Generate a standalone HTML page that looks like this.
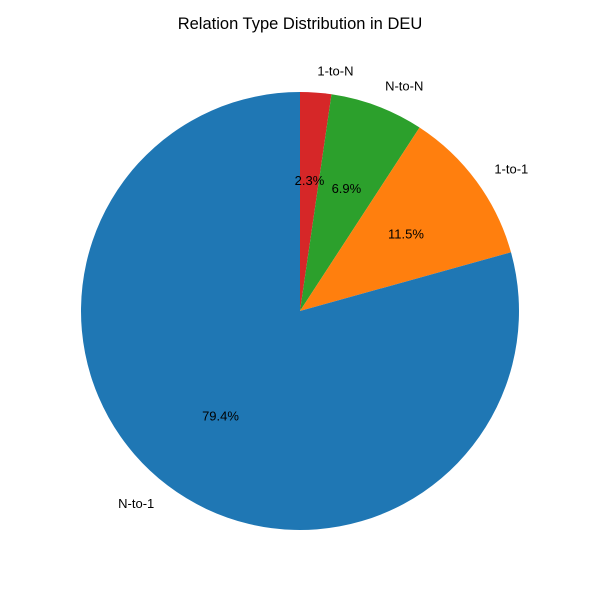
<!DOCTYPE html>
<html><head><meta charset="utf-8"><style>
body{margin:0;background:#fff}
svg{display:block;font-family:"Liberation Sans","DejaVu Sans",sans-serif}
</style></head><body>
<svg id="chart" width="600" height="600">
<text x="300" y="29" text-anchor="middle" font-size="16.5" fill="#000">Relation Type Distribution in DEU</text>
<g id="slices"></g><g id="labels"></g>
</svg>
<script>
const categories=["1-to-N","N-to-N","1-to-1","N-to-1"];
const values=[2.3,6.9,11.5,79.4];
const colors=["#d62728","#2ca02c","#ff7f0e","#1f77b4"];
const cx=300,cy=311,r=219;
const NS="http://www.w3.org/2000/svg";
const total=values.reduce((a,b)=>a+b,0);
let ang=90;
const sg=document.getElementById('slices'),lg=document.getElementById('labels');
function pt(a,rr){const t=a*Math.PI/180;return [cx+rr*Math.cos(t),cy-rr*Math.sin(t)];}
values.forEach((v,i)=>{
  const sweep=v/total*360;const a0=ang,a1=ang-sweep;
  const p0=pt(a0,r),p1=pt(a1,r);
  const p=document.createElementNS(NS,'path');
  p.setAttribute('d',`M${cx},${cy}L${p0[0]},${p0[1]}A${r},${r} 0 ${sweep>180?1:0} 1 ${p1[0]},${p1[1]}Z`);
  p.setAttribute('fill',colors[i]);
  
  
  sg.appendChild(p);
  const mid=(a0+a1)/2;
  const lp=pt(mid,r*1.1);
  const t=document.createElementNS(NS,'text');
  t.setAttribute('x',lp[0]);t.setAttribute('y',lp[1]+5);
  t.setAttribute('text-anchor',lp[0]>=cx?'start':'end');
  t.setAttribute('font-size','13');
  t.textContent=categories[i];
  
  
  lg.appendChild(t);
  const pp=pt(mid,r*0.6);
  const q=document.createElementNS(NS,'text');
  q.setAttribute('x',pp[0]);q.setAttribute('y',pp[1]+5);
  q.setAttribute('text-anchor','middle');
  q.setAttribute('font-size','13');
  q.textContent=v.toFixed(1)+'%';
  
  
  lg.appendChild(q);
  ang=a1;
});
</script>
</body></html>
